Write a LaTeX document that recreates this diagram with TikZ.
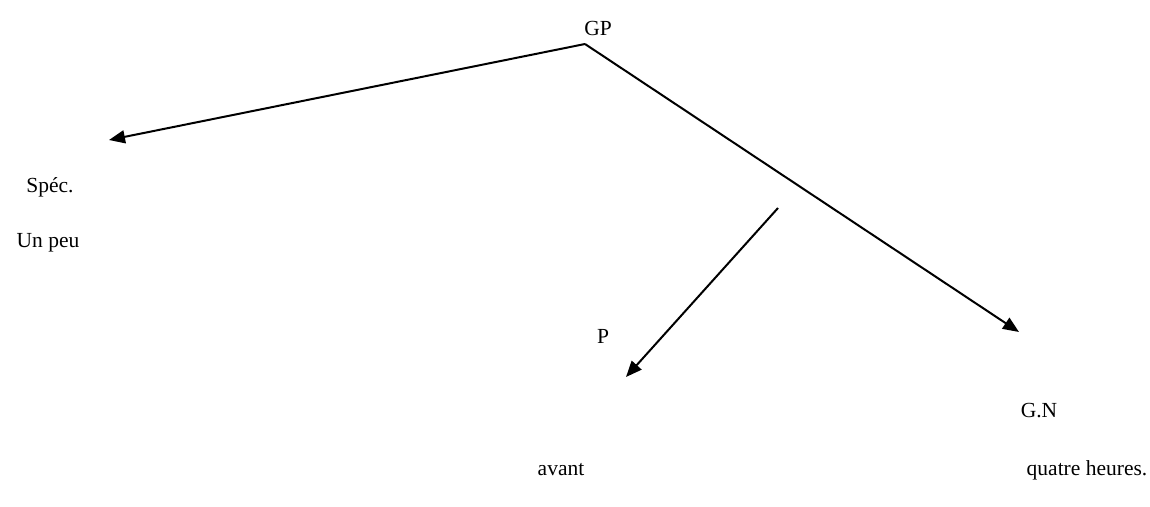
\documentclass[tikz,border=0pt]{standalone}
\usepackage{fontspec}
\setmainfont{Liberation Serif}
\usetikzlibrary{arrows.meta}
\tikzset{
  lbl/.style={inner sep=0pt, font=\fontsize{21.5}{25}\selectfont},
  arr/.style={line width=2pt, -{Triangle[length=16pt,width=13pt]}}
}
\begin{document}
\begin{tikzpicture}[x=1pt,y=-1pt]
\useasboundingbox (0,0) rectangle (1150,506);
\node[lbl] (gp) at (598,28) {GP};
\node[lbl] (spec) at (50,187) {Spéc.};
\node[lbl] (unpeu) at (48,243) {Un peu};
\node[lbl] (p) at (603,336) {P};
\node[lbl] (gn) at (1039,411) {G.N};
\node[lbl] (avant) at (561,470) {avant};
\node[lbl] (quatre) at (1087,470) {quatre heures.};
\coordinate (root) at (585,44);
\coordinate (spectip) at (109,140);
\coordinate (gntip) at (1019,332);
\coordinate (pstart) at (778,208);
\coordinate (ptip) at (626,377);
\draw[arr] (root) -- (spectip);
\draw[arr] (root) -- (gntip);
\draw[arr] (pstart) -- (ptip);
\end{tikzpicture}
\end{document}
